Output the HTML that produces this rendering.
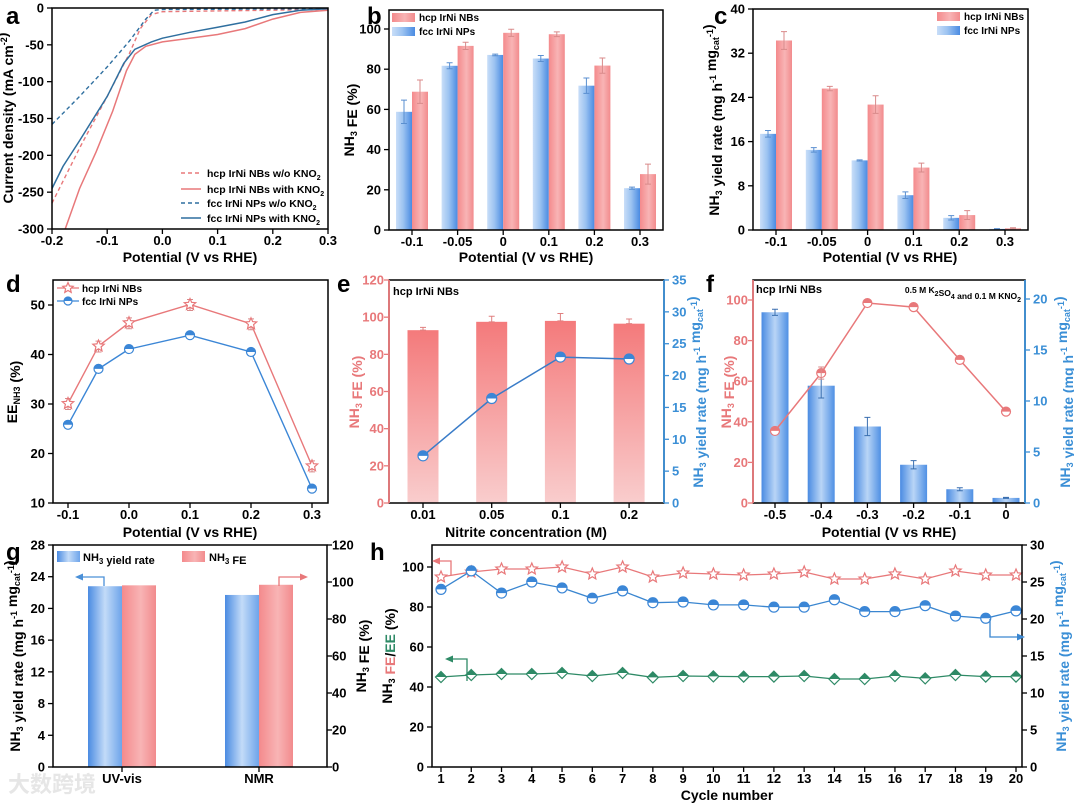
<!DOCTYPE html>
<html><head><meta charset="utf-8"><style>
html,body{margin:0;padding:0;background:#fff}
svg{display:block;font-family:"Liberation Sans",Arial,"Noto Sans CJK SC",sans-serif;font-weight:bold}
</style></head><body>
<svg id="fig" width="1074" height="804" viewBox="0 0 1074 804" xmlns="http://www.w3.org/2000/svg">
<defs>
<linearGradient id="gB" x1="0" x2="1" y1="0" y2="0"><stop offset="0" stop-color="#c9def8"/><stop offset="0.45" stop-color="#9cc3f1"/><stop offset="1" stop-color="#4a8be2"/></linearGradient>
<linearGradient id="gR" x1="0" x2="1" y1="0" y2="0"><stop offset="0" stop-color="#f48a8c"/><stop offset="0.55" stop-color="#f8b4b5"/><stop offset="1" stop-color="#f28b8d"/></linearGradient>
<linearGradient id="gE" x1="0" x2="0" y1="0" y2="1"><stop offset="0" stop-color="#f47a7b"/><stop offset="1" stop-color="#f9cdcd"/></linearGradient>
<linearGradient id="gF" x1="0" x2="1" y1="0" y2="0"><stop offset="0" stop-color="#4a8be2"/><stop offset="0.5" stop-color="#b9d5f6"/><stop offset="1" stop-color="#4f90e4"/></linearGradient>
<linearGradient id="gG" x1="0" x2="1" y1="0" y2="0"><stop offset="0" stop-color="#4a8be2"/><stop offset="0.5" stop-color="#c3dbf8"/><stop offset="1" stop-color="#6da4ea"/></linearGradient>
</defs>
</svg>
<script>
// ---------- data ----------
const aHcpWo=[[-0.2,-265],[-0.15,-190],[-0.1,-120],[-0.06,-62],[-0.04,-28],[-0.02,-9],[0,-5],[0.1,-4],[0.2,-3],[0.3,-2]];
const aHcpWith=[[-0.176,-300],[-0.15,-245],[-0.12,-195],[-0.09,-140],[-0.065,-85],[-0.05,-63],[-0.03,-52],[0,-46],[0.05,-41],[0.1,-36],[0.15,-28],[0.2,-15],[0.25,-6],[0.3,-3]];
const aFccWo=[[-0.2,-158],[-0.15,-120],[-0.1,-80],[-0.06,-45],[-0.03,-15],[-0.015,-3],[0,-2],[0.3,-1]];
const aFccWith=[[-0.2,-245],[-0.18,-215],[-0.15,-180],[-0.1,-120],[-0.07,-75],[-0.05,-56],[-0.02,-46],[0,-41],[0.05,-33],[0.1,-26],[0.15,-19],[0.2,-9],[0.25,-3],[0.3,-1]];
const potCats=['-0.1','-0.05','0','0.1','0.2','0.3'];
const bHcp=[68.8,91.6,98.1,97.4,81.8,27.8];
const bHcpErr=[5.8,1.8,1.8,1.2,3.8,5];
const bFcc=[58.8,81.7,87.1,85.3,71.8,20.8];
const bFccErr=[5.8,1.5,0.4,1.5,3.8,0.5];
const cHcp=[34.3,25.6,22.7,11.3,2.7,0.3];
const cHcpErr=[1.6,0.4,1.6,0.8,0.8,0.1];
const cFcc=[17.4,14.5,12.6,6.3,2.2,0.2];
const cFccErr=[0.6,0.4,0.1,0.6,0.4,0.05];
const dX=[-0.1,-0.05,0,0.1,0.2,0.3];
const dHcp=[30.1,41.7,46.4,50.1,46.2,17.5];
const dFcc=[25.8,37.1,41.1,43.9,40.5,12.9];
const eCats=['0.01','0.05','0.1','0.2'];
const eFE=[93,97.5,98,96.5];
const eFEErr=[1.5,3,4,2.5];
const eYield=[7.4,16.4,22.9,22.6];
const fCats=['-0.5','-0.4','-0.3','-0.2','-0.1','0'];
const fYield=[18.7,11.5,7.5,3.75,1.35,0.5];
const fYieldErr=[0.3,1.2,0.9,0.4,0.15,0.05];
const fFE=[35.5,64,98.5,96.5,70.5,45];
const gCats=['UV-vis','NMR'];
const gYield=[22.8,21.7];
const gFE=[98.2,98.5];
const hCycles=[1,2,3,4,5,6,7,8,9,10,11,12,13,14,15,16,17,18,19,20];
const hFE=[95,97.5,99,99,100,96.5,100,95,97,96.5,96,96.5,97.5,94,94,96.5,94,98,96,96];
const hYield=[24,26.5,23.5,25,24.2,22.8,23.8,22.2,22.3,21.9,21.9,21.6,21.6,22.6,21,21,21.8,20.4,20.1,21.1];
const hEE=[45,46,46.5,46.5,47,45.5,47,44.8,45.5,45.3,45.2,45.2,45.5,44,44,45.5,44.3,46,45.2,45.2];

// ---------- helpers ----------
const NS='http://www.w3.org/2000/svg';
const svg=document.getElementById('fig');
const RED='#e8787a', BLUE='#3b86d6', LBLUE='#3b8fd6', GREEN='#2e8a66', DBLUE='#2f6f9f';
function mk(tag,at,par){const e=document.createElementNS(NS,tag);for(const k in at)e.setAttribute(k,at[k]);(par||svg).appendChild(e);return e;}
function lin(d0,d1,r0,r1){return v=>r0+(v-d0)*(r1-r0)/(d1-d0);}
function T(x,y,html,o){o=o||{};const t=mk('text',{x:x,y:y,'font-size':o.fs||13,'text-anchor':o.a||'middle',fill:o.c||'#000'});
 if(o.rot)t.setAttribute('transform','rotate(-90 '+x+' '+y+')');t.innerHTML=html;return t;}
function sub(s,fs){return '<tspan dy="3" font-size="'+(fs||9)+'">'+s+'</tspan><tspan dy="-3"></tspan>';}
function sup(s,fs){return '<tspan dy="-6" font-size="'+(fs||9)+'">'+s+'</tspan><tspan dy="6"></tspan>';}
function frame(x0,x1,y0,y1,c){return mk('rect',{x:x0,y:y0,width:x1-x0,height:y1-y0,fill:'none',stroke:c||'#000','stroke-width':1.5});}
function xTicks(fx,vals,labs,yb){vals.forEach((v,i)=>{mk('line',{x1:fx(v),x2:fx(v),y1:yb,y2:yb+5,stroke:'#000','stroke-width':1.3});
 const t=T(fx(v),yb+16,labs[i]);});}
function yTicks(fy,vals,x0,side,c,off){vals.forEach(v=>{const d=side==='r'?1:-1;
 mk('line',{x1:x0,x2:x0+5*d,y1:fy(v),y2:fy(v),stroke:c||'#000','stroke-width':1.3});
 const t=T(x0+(off||8)*d,fy(v)+4.5,String(v),{a:side==='r'?'start':'end',c:c||'#000'});});}
function path(pts,fx,fy,at){return mk('path',Object.assign({d:pts.map((p,i)=>(i?'L':'M')+fx(p[0]).toFixed(1)+' '+fy(p[1]).toFixed(1)).join(''),fill:'none'},at));}
function star(cx,cy,r,c){let d='';for(let i=0;i<10;i++){const rr=i%2?r*0.45:r;const a=-Math.PI/2+i*Math.PI/5;d+=(i?'L':'M')+(cx+rr*Math.cos(a)).toFixed(1)+' '+(cy+rr*Math.sin(a)).toFixed(1);}
 return mk('path',{d:d+'Z',fill:'#fff',stroke:c,'stroke-width':1.2});}
function halfC(cx,cy,r,c){const g=mk('g',{});mk('circle',{cx:cx,cy:cy,r:r,fill:'#fff',stroke:c,'stroke-width':1.2},g);
 mk('path',{d:`M${cx-r} ${cy}A${r} ${r} 0 0 1 ${cx+r} ${cy}Z`,fill:c},g);return g;}
function halfD(cx,cy,r,c){const g=mk('g',{});mk('path',{d:`M${cx} ${cy-r}L${cx+r} ${cy}L${cx} ${cy+r}L${cx-r} ${cy}Z`,fill:'#fff',stroke:c,'stroke-width':1.2},g);
 mk('path',{d:`M${cx} ${cy-r}L${cx+r} ${cy}L${cx-r} ${cy}Z`,fill:c},g);return g;}
function err(x,y0,y1,c){mk('path',{d:`M${x} ${y0}V${y1}M${x-3} ${y0}H${x+3}M${x-3} ${y1}H${x+3}`,stroke:c,'stroke-width':1,fill:'none'});}
function letter(x,y,s){const t=T(x,y,s,{fs:24,a:'start'});}
function arrow(d,hx,hy,dir,c){mk('path',{d:d,stroke:c,'stroke-width':1.3,fill:'none'});
 const s=dir==='l'?1:-1;mk('path',{d:`M${hx} ${hy}L${hx+8*s} ${hy-3.5}L${hx+8*s} ${hy+3.5}Z`,fill:c});}

// ---------- panel a ----------
{const fx=lin(-0.2,0.3,52,328),fy=lin(-300,0,229,8);
letter(6,24,'a');
const l1=path(aHcpWo,fx,fy,{stroke:RED,'stroke-width':1.4,'stroke-dasharray':'4 3'});
const l2=path(aHcpWith,fx,fy,{stroke:RED,'stroke-width':1.5});
const l3=path(aFccWo,fx,fy,{stroke:DBLUE,'stroke-width':1.4,'stroke-dasharray':'4 3'});
const l4=path(aFccWith,fx,fy,{stroke:DBLUE,'stroke-width':1.5});
const f=frame(52,328,8,229);
xTicks(fx,[-0.2,-0.1,0,0.1,0.2,0.3],['-0.2','-0.1','0.0','0.1','0.2','0.3'],229);
yTicks(fy,[0,-50,-100,-150,-200,-250,-300],52,'l');
const xt=T(190,262,'Potential (V vs RHE)',{fs:14});
const yt=T(13,118,'Current density (mA cm'+sup('-2')+')',{fs:14,rot:1});
const leg=[['hcp IrNi NBs w/o KNO','4 3',RED,173],['hcp IrNi NBs with KNO','',RED,189],['fcc IrNi NPs w/o KNO','4 3',DBLUE,203],['fcc IrNi NPs with KNO','',DBLUE,218]];
leg.forEach(l=>{const ln=mk('line',{x1:181,x2:201,y1:l[3],y2:l[3],stroke:l[2],'stroke-width':1.4,'stroke-dasharray':l[1]||'none'});
 
 const t=T(207,l[3]+4,l[0]+sub('2',7),{fs:10.5,a:'start'});});}

// ---------- panel b ----------
{const fy=lin(0,100,230,29),cx=i=>412+i*45.6;
letter(367,24,'b');
potCats.forEach((c,i)=>{const x=cx(i);
 const rb=mk('rect',{x:x-16,y:fy(bFcc[i]),width:16,height:230-fy(bFcc[i]),fill:'url(#gB)'});
 const rr=mk('rect',{x:x,y:fy(bHcp[i]),width:16,height:230-fy(bHcp[i]),fill:'url(#gR)'});
 err(x-8,fy(bFcc[i]-bFccErr[i]),fy(bFcc[i]+bFccErr[i]),'#5a8fd0');err(x+8,fy(bHcp[i]-bHcpErr[i]),fy(bHcp[i]+bHcpErr[i]),'#d98a8a');});
const f=frame(389,663,10,230);
xTicks(cx,[0,1,2,3,4,5],potCats,230);
yTicks(fy,[0,20,40,60,80,100],389,'l');
const xt=T(526,262,'Potential (V vs RHE)',{fs:14});
const yt=T(354,120,'NH'+sub('3')+' FE (%)',{fs:14,rot:1});
const s1=mk('rect',{x:392,y:13,width:23,height:9,fill:'url(#gR)'});
const s2=mk('rect',{x:392,y:27,width:23,height:9,fill:'url(#gB)'});
const t1=T(419,21,'hcp IrNi NBs',{fs:10,a:'start'});
const t2=T(419,35,'fcc IrNi NPs',{fs:10,a:'start'});}

// ---------- panel c ----------
{const fy=lin(0,40,230,9),cx=i=>776+i*45.8;
letter(714,24,'c');
potCats.forEach((c,i)=>{const x=cx(i);
 const rb=mk('rect',{x:x-16,y:fy(cFcc[i]),width:16,height:230-fy(cFcc[i]),fill:'url(#gB)'});
 const rr=mk('rect',{x:x,y:fy(cHcp[i]),width:16,height:230-fy(cHcp[i]),fill:'url(#gR)'});
 err(x-8,fy(cFcc[i]-cFccErr[i]),fy(cFcc[i]+cFccErr[i]),'#5a8fd0');err(x+8,fy(cHcp[i]-cHcpErr[i]),fy(cHcp[i]+cHcpErr[i]),'#d98a8a');});
const f=frame(753,1028,9,230);
xTicks(cx,[0,1,2,3,4,5],potCats,230);
yTicks(fy,[0,8,16,24,32,40],753,'l');
const xt=T(890,262,'Potential (V vs RHE)',{fs:14});
const yt=T(719,120,'NH'+sub('3')+' yield rate (mg h'+sup('-1')+' mg'+sub('cat')+sup('-1')+')',{fs:14,rot:1});
const s1=mk('rect',{x:937,y:12,width:23,height:9,fill:'url(#gR)'});
const s2=mk('rect',{x:937,y:26,width:23,height:9,fill:'url(#gB)'});
const t1=T(964,20,'hcp IrNi NBs',{fs:10,a:'start'});
const t2=T(964,34,'fcc IrNi NPs',{fs:10,a:'start'});}

// ---------- panel d ----------
{const fx=lin(-0.1,0.3,68,312),fy=lin(10,50,503,305);
letter(6,292,'d');
const l1=path(dX.map((x,i)=>[x,dHcp[i]]),fx,fy,{stroke:RED,'stroke-width':1.4});
const l2=path(dX.map((x,i)=>[x,dFcc[i]]),fx,fy,{stroke:BLUE,'stroke-width':1.4});
dX.forEach((x,i)=>{err(fx(x),fy(dHcp[i]-1.2),fy(dHcp[i]+1),'#d98a8a');const s=star(fx(x),fy(dHcp[i]),6,RED);
 const c=halfC(fx(x),fy(dFcc[i]),4.5,BLUE);});
const f=frame(53,328,280,503);
xTicks(fx,[-0.1,0,0.1,0.2,0.3],['-0.1','0.0','0.1','0.2','0.3'],503);
yTicks(fy,[10,20,30,40,50],53,'l');
const xt=T(190,537,'Potential (V vs RHE)',{fs:14});
const yt=T(17,392,'EE'+sub('NH3')+' (%)',{fs:14,rot:1});
mk('line',{x1:57,x2:79,y1:288,y2:288,stroke:RED,'stroke-width':1.3});star(68,288,5.5,RED);
mk('line',{x1:57,x2:79,y1:301,y2:301,stroke:BLUE,'stroke-width':1.3});halfC(68,301,4,BLUE);
const t1=T(82,292,'hcp IrNi NBs',{fs:10,a:'start'});
const t2=T(82,305,'fcc IrNi NPs',{fs:10,a:'start'});}

// ---------- panel e ----------
{const fyL=lin(0,120,503,280),fyR=lin(0,35,503,280),cx=i=>423+i*68.7;
letter(337,292,'e');
eCats.forEach((c,i)=>{const r=mk('rect',{x:cx(i)-15.5,y:fyL(eFE[i]),width:31,height:503-fyL(eFE[i]),fill:'url(#gE)'});
 err(cx(i),fyL(eFE[i]),fyL(eFE[i]+eFEErr[i]),'#e08080');});
const l=path(eYield.map((v,i)=>[i,v]),cx,fyR,{stroke:'#3a7cc8','stroke-width':1.5});
eYield.forEach((v,i)=>{const p=halfC(cx(i),fyR(v),5,BLUE);});
const f=frame(389,664,280,503);
mk('line',{x1:389,x2:389,y1:280,y2:503,stroke:RED,'stroke-width':1.8});mk('line',{x1:664,x2:664,y1:280,y2:503,stroke:LBLUE,'stroke-width':1.8});
xTicks(cx,[0,1,2,3],eCats,503);
yTicks(fyL,[0,20,40,60,80,100,120],389,'l',RED,5);
yTicks(fyR,[0,5,10,15,20,25,30,35],664,'r',LBLUE);
const xt=T(526,537,'Nitrite concentration (M)',{fs:14});
const yt=T(359,392,'NH'+sub('3')+' FE (%)',{fs:14,rot:1,c:RED});
const yr=T(703,392,'NH'+sub('3')+' yield rate (mg h'+sup('-1')+' mg'+sub('cat')+sup('-1')+')',{fs:14,rot:1,c:LBLUE});
const ann=T(393,295,'hcp IrNi NBs',{fs:11,a:'start'});}

// ---------- panel f ----------
{const fyL=lin(0,100,503,300),fyR=lin(0,20,503,299),cx=i=>775+i*46.2;
letter(706,292,'f');
fCats.forEach((c,i)=>{const r=mk('rect',{x:cx(i)-13.5,y:fyR(fYield[i]),width:27,height:503-fyR(fYield[i]),fill:'url(#gF)'});
 err(cx(i),fyR(fYield[i]-fYieldErr[i]),fyR(fYield[i]+fYieldErr[i]),'#3a6fb0');});
const l=path(fFE.map((v,i)=>[i,v]),cx,fyL,{stroke:RED,'stroke-width':1.5});
fFE.forEach((v,i)=>{const p=halfC(cx(i),fyL(v),4.5,RED);});
err(cx(1),fyL(61),fyL(67),'#d98a8a');
const f=frame(753,1025,280,503);
mk('line',{x1:753,x2:753,y1:280,y2:503,stroke:RED,'stroke-width':1.8});mk('line',{x1:1025,x2:1025,y1:280,y2:503,stroke:LBLUE,'stroke-width':1.8});
xTicks(cx,[0,1,2,3,4,5],fCats,503);
yTicks(fyL,[0,20,40,60,80,100],753,'l',RED,5);
yTicks(fyR,[0,5,10,15,20],1025,'r',LBLUE);
const xt=T(889,537,'Potential (V vs RHE)',{fs:14});
const yt=T(731,392,'NH'+sub('3')+' FE (%)',{fs:14,rot:1,c:RED});
const yr=T(1070,392,'NH'+sub('3')+' yield rate (mg h'+sup('-1')+' mg'+sub('cat')+sup('-1')+')',{fs:14,rot:1,c:LBLUE});
const a1=T(756,293,'hcp IrNi NBs',{fs:11,a:'start'});
const a2=T(1021,293,'0.5 M K'+sub('2',7)+'SO'+sub('4',7)+' and 0.1 M KNO'+sub('2',7),{fs:8.5,a:'end'});}

// ---------- panel g ----------
{const fyL=lin(0,28,767,545),fyR=lin(0,120,767,545),cx=i=>122+i*137;
letter(6,560,'g');
gCats.forEach((c,i)=>{const b=mk('rect',{x:cx(i)-34,y:fyL(gYield[i]),width:34,height:767-fyL(gYield[i]),fill:'url(#gG)'});
 const r=mk('rect',{x:cx(i),y:fyR(gFE[i]),width:34,height:767-fyR(gFE[i]),fill:'url(#gR)'});});
const f=frame(53,327,545,767);
xTicks(cx,[0,1],gCats,767);
yTicks(fyL,[0,4,8,12,16,20,24,28],53,'l');
yTicks(fyR,[0,20,40,60,80,100,120],327,'r','#000',5);
const yt=T(20,656,'NH'+sub('3')+' yield rate (mg h'+sup('-1')+' mg'+sub('cat')+sup('-1')+')',{fs:14,rot:1});
const yr=T(366,656,'NH'+sub('3')+' FE (%)',{fs:14,rot:1});
mk('rect',{x:57,y:551,width:23,height:11,fill:'url(#gG)'});mk('rect',{x:182,y:551,width:23,height:11,fill:'url(#gR)'});
const t1=T(83,561,'NH'+sub('3',8)+' yield rate',{fs:11,a:'start'});
const t2=T(209,561,'NH'+sub('3',8)+' FE',{fs:11,a:'start'});
arrow('M104 586V577H80',75,577,'l','#4a90d8');
arrow('M279 586V577H303',308,577,'r','#e8787a');
const wm=T(8,792,'大数跨境',{fs:22,a:'start',c:'#e6e6e6'});}

// ---------- panel h ----------
{const fx=lin(1,20,441,1016),fyL=lin(0,100,767,567),fyR=lin(0,30,767,545);
letter(370,560,'h');
const lf=path(hCycles.map((c,i)=>[c,hFE[i]]),fx,fyL,{stroke:RED,'stroke-width':1.3});
const ly=path(hCycles.map((c,i)=>[c,hYield[i]]),fx,fyR,{stroke:'#3a86d0','stroke-width':1.3});
const le=path(hCycles.map((c,i)=>[c,hEE[i]]),fx,fyL,{stroke:GREEN,'stroke-width':1.3});
hCycles.forEach((c,i)=>{const s=star(fx(c),fyL(hFE[i]),6,RED);
 const p=halfC(fx(c),fyR(hYield[i]),5,BLUE);
 const d=halfD(fx(c),fyL(hEE[i]),5.5,GREEN);});
const f=frame(432,1022,545,767);
xTicks(fx,hCycles,hCycles.map(String),767);
yTicks(fyL,[0,20,40,60,80,100],432,'l');
yTicks(fyR,[0,5,10,15,20,25,30],1022,'r');
const xt=T(727,800,'Cycle number',{fs:14});
const yt=T(392,656,'NH'+sub('3')+' <tspan fill="'+RED+'">FE</tspan>/<tspan fill="'+GREEN+'">EE</tspan> (%)',{fs:14,rot:1});
const yr=T(1066,656,'NH'+sub('3')+' yield rate (mg h'+sup('-1')+' mg'+sub('cat')+sup('-1')+')',{fs:14,rot:1,c:LBLUE});
arrow('M451 575V561H440',432,561,'l',RED);
arrow('M467 681V659H453',445,659,'l',GREEN);
arrow('M990 619V637H1017',1025,637,'r','#3a86d0');}
</script>
</body></html>
